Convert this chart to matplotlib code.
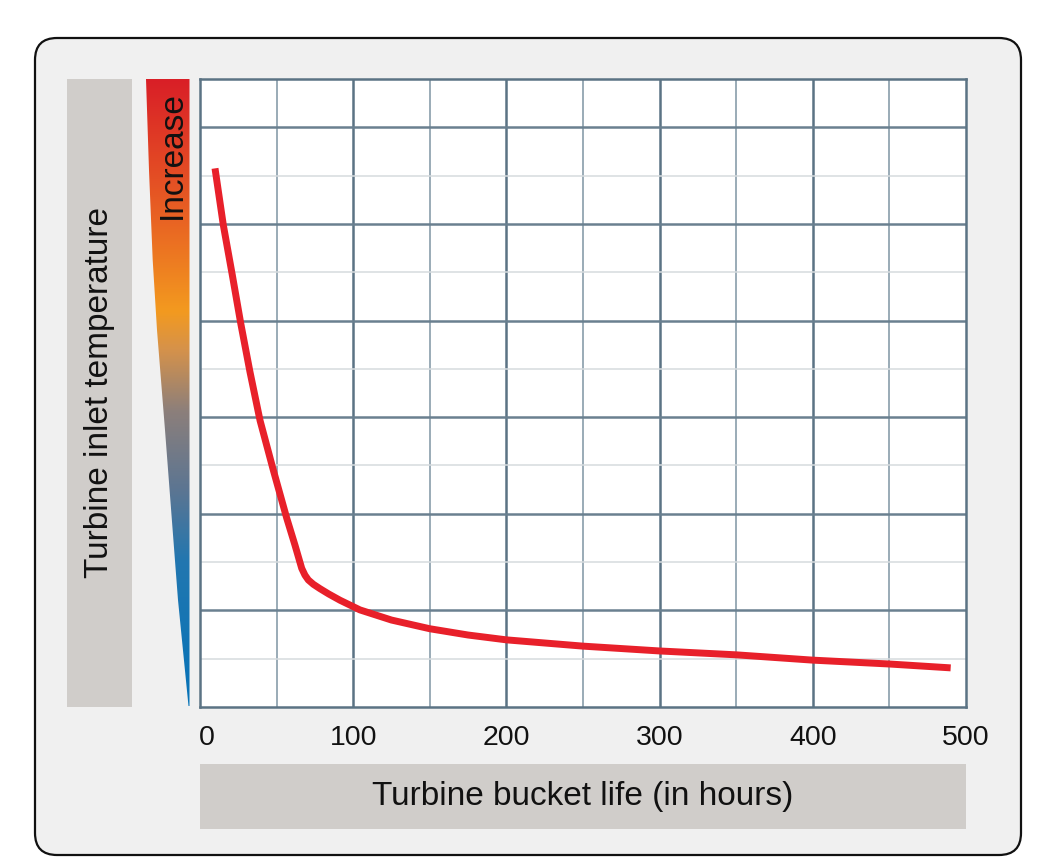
import matplotlib
matplotlib.use("Agg")
import matplotlib.pyplot as plt
import matplotlib.transforms as mtransforms
import numpy as np
from matplotlib.patches import FancyBboxPatch, Rectangle, Polygon
from matplotlib.colors import LinearSegmentedColormap

plt.rcParams['font.family'] = ['Liberation Sans', 'DejaVu Sans']

# ---- data ----
hours = [9.8, 15.2, 21.1, 26.6, 32.6, 39.2, 47.8, 56.6, 62.0, 66.4, 68.5, 70.7, 74.0,
         78.3, 84.0, 91.4, 104.4, 125, 150, 175, 200, 250, 300, 350, 400, 450, 490]
temperature = [11.15, 9.98, 8.94, 7.94, 6.94, 5.93, 4.91, 3.91, 3.35, 2.87, 2.73, 2.63, 2.54,
               2.45, 2.34, 2.21, 2.01, 1.80, 1.62, 1.49, 1.39, 1.26, 1.16, 1.08, 0.97, 0.89, 0.81]
x_ticks = [0, 100, 200, 300, 400, 500]
x_tick_labels = ["0", "100", "200", "300", "400", "500"]
x_label = "Turbine bucket life (in hours)"
y_label = "Turbine inlet temperature"
wedge_label = "Increase"

W, H = 1055, 868
fig = plt.figure(figsize=(W / 100, H / 100), dpi=100)
fig.patch.set_facecolor('white')

# background pixel-coordinate axes
bg = fig.add_axes([0, 0, 1, 1])
bg.set_xlim(0, W)
bg.set_ylim(H, 0)
bg.axis('off')

frame = FancyBboxPatch((35, 38), 986, 817, boxstyle="round,pad=0,rounding_size=22",
                       facecolor='#f0f0f0', edgecolor='#111111', linewidth=1.6)
bg.add_patch(frame)
bg.add_patch(Rectangle((67, 79), 65, 628, facecolor='#d0cdca', edgecolor='none'))
bg.add_patch(Rectangle((200, 764), 766, 65, facecolor='#d0cdca', edgecolor='none'))

# gradient wedge
cmap = LinearSegmentedColormap.from_list('wedge', [
    (0.00, '#d91f27'),
    (0.23, '#e96523'),
    (0.37, '#f39a1f'),
    (0.43, '#d6924a'),
    (0.53, '#8c7f7b'),
    (0.66, '#5a7593'),
    (0.77, '#2277b0'),
    (1.00, '#0673b8'),
])
grad = np.linspace(0, 1, 256).reshape(-1, 1)
im = bg.imshow(grad, cmap=cmap, aspect='auto', extent=(146, 189.5, 706, 79),
               interpolation='bilinear', zorder=2)
wedge = Polygon([(146, 79), (189.5, 79), (189.5, 706), (188.5, 706),
                 (178, 600), (165, 430), (157, 330), (152.7, 260), (149, 170)], closed=True,
                transform=bg.transData, facecolor='none', edgecolor='none')
bg.add_patch(wedge)
im.set_clip_path(wedge)

bg.text(99.5, 392, y_label, rotation=90, ha='center', va='center', fontsize=24, color='#111111')
bg.text(172, 155, wedge_label, rotation=90, ha='center', va='center', fontsize=24, color='#111111', zorder=3)
bg.text(583, 797, x_label, ha='center', va='center', fontsize=24, color='#111111')

# main chart axes
ax = fig.add_axes([200 / W, (H - 707) / H, 766 / W, 628 / H])
ax.set_facecolor('white')
ax.set_xlim(0, 500)
ax.set_ylim(0, 13)

major_c = '#5b7384'
for xv in range(50, 500, 50):
    if xv % 100 == 0:
        ax.axvline(xv, color=major_c, lw=1.8, zorder=1)
    else:
        ax.axvline(xv, color='#7f95a3', lw=1.1, zorder=1)
for yv in range(1, 13):
    if yv % 2 == 0:
        ax.axhline(yv, color='#6a8090', lw=1.8, zorder=1)
    else:
        ax.axhline(yv, color='#d6dbde', lw=1.1, zorder=1)

ax.plot(hours, temperature, color='#e8202a', lw=5, solid_capstyle='butt',
        solid_joinstyle='round', zorder=3)

for s in ax.spines.values():
    s.set_color(major_c)
    s.set_linewidth(1.8)

ax.set_xticks(x_ticks)
ax.set_xticklabels(x_tick_labels, fontsize=20.5, color='#111111')
ax.tick_params(axis='x', length=0, pad=13)
ax.set_yticks([])
first = ax.get_xticklabels()[0]
first.set_transform(first.get_transform() + mtransforms.ScaledTranslation(7 / 100, 0, fig.dpi_scale_trans))

fig.savefig('out.png', dpi=100, facecolor='white')
